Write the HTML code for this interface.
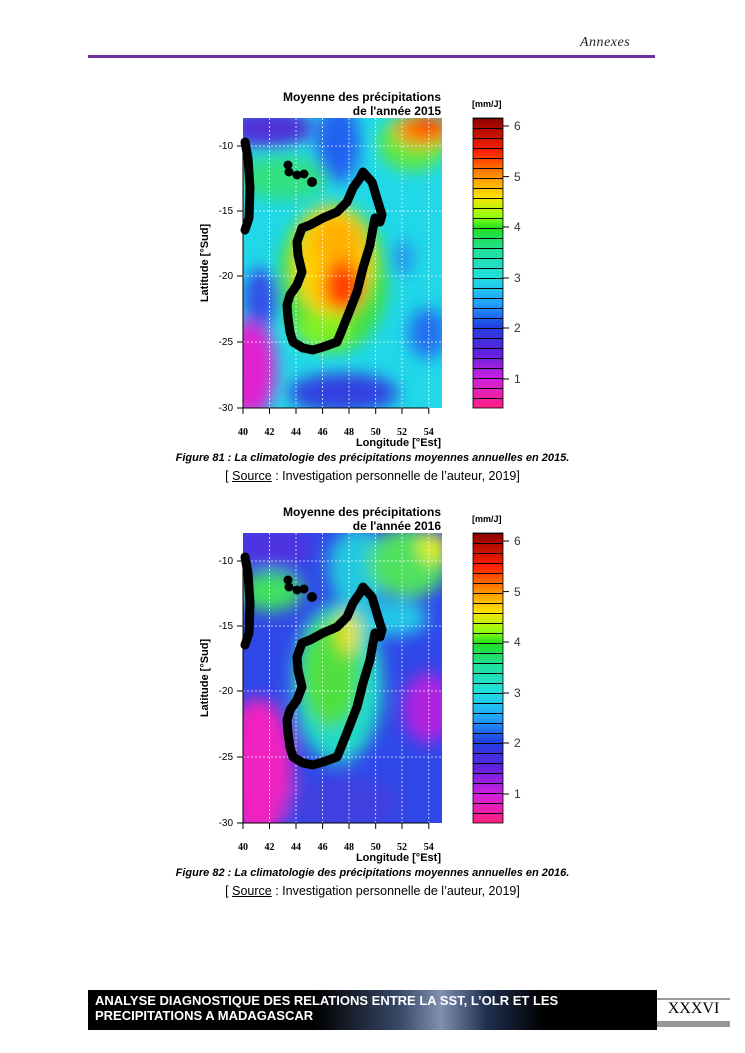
<!DOCTYPE html>
<html><head><meta charset="utf-8">
<style>
body{margin:0;background:#fff;}
#pg{position:relative;width:745px;height:1053px;overflow:hidden;background:#fff;font-family:"Liberation Sans",sans-serif;}
.abs{position:absolute;}
</style></head><body><div id="pg">
<div class="abs" style="left:580px;top:35px;font-family:'Liberation Serif',serif;font-style:italic;font-size:14px;color:#222;letter-spacing:0.5px">Annexes</div>
<div class="abs" style="left:88px;top:55px;width:567px;height:3px;background:#7030a0"></div>

<svg class="abs" style="left:0;top:0" width="745" height="1053" font-family="Liberation Sans, sans-serif">
<defs>
<filter id="bl" x="-50%" y="-50%" width="200%" height="200%"><feGaussianBlur stdDeviation="8"/></filter>
<clipPath id="cp"><rect x="0" y="0" width="199" height="290"/></clipPath>
<linearGradient id="cb" x1="0" y1="0" x2="0" y2="1">
<stop offset="0" stop-color="#8b0000"/><stop offset="0.115" stop-color="#ff2000"/>
<stop offset="0.2" stop-color="#ff9000"/><stop offset="0.27" stop-color="#ffe000"/>
<stop offset="0.34" stop-color="#90ff10"/><stop offset="0.38" stop-color="#20e020"/>
<stop offset="0.46" stop-color="#20e0a0"/><stop offset="0.55" stop-color="#20e0e0"/>
<stop offset="0.64" stop-color="#20a0ff"/><stop offset="0.72" stop-color="#2040e0"/>
<stop offset="0.81" stop-color="#6020e0"/><stop offset="0.9" stop-color="#d020e0"/>
<stop offset="1" stop-color="#ff2080"/></linearGradient>
<pattern id="cbl" width="30" height="10" patternUnits="userSpaceOnUse" y="0"><rect width="30" height="1" fill="#000"/></pattern>
<g id="mada" fill="none" stroke="#000" stroke-width="9" stroke-linejoin="round" stroke-linecap="round">
<path d="M120,54 L129,64 L135,84 L139,97 L137,104 L132,100 L130,110 L127,127 L120,150 L114,174 L105,197 L97,217 L94,224 L80,229 L70,232 L60,230 L50,224 L47,214 L45,200 L44,187 L47,177 L54,167 L59,154 L55,137 L54,124 L59,110 L67,107 L80,100 L94,94 L104,84 L110,70 L117,60 Z"/>
<path d="M2,24 L5,40 L7,70 L6,100 L2,112"/>
</g>
<g id="dots" fill="#000"><circle cx="45" cy="47" r="4.5"/><circle cx="46" cy="54" r="4.5"/><circle cx="54" cy="57" r="4.5"/><circle cx="61" cy="56" r="4.5"/><circle cx="69" cy="64" r="5"/></g>
<g id="grid" stroke="#fff" stroke-width="0.8" stroke-dasharray="2,2" opacity="0.9">
<line x1="26.5" y1="0" x2="26.5" y2="290"/><line x1="53" y1="0" x2="53" y2="290"/><line x1="79.6" y1="0" x2="79.6" y2="290"/><line x1="106" y1="0" x2="106" y2="290"/><line x1="132.7" y1="0" x2="132.7" y2="290"/><line x1="159" y1="0" x2="159" y2="290"/><line x1="185.8" y1="0" x2="185.8" y2="290"/>
<line x1="0" y1="28" x2="199" y2="28"/><line x1="0" y1="93" x2="199" y2="93"/><line x1="0" y1="158" x2="199" y2="158"/><line x1="0" y1="224" x2="199" y2="224"/>
</g>
<g id="axes" font-size="10" font-weight="bold" fill="#000">
<g stroke="#000" stroke-width="1"><line x1="0" y1="28" x2="0" y2="290"/><line x1="-6" y1="28" x2="0" y2="28"/><line x1="-6" y1="93" x2="0" y2="93"/><line x1="-6" y1="158" x2="0" y2="158"/><line x1="-6" y1="224" x2="0" y2="224"/><line x1="-6" y1="290" x2="0" y2="290"/>
<line x1="0" y1="290" x2="186" y2="290"/><line x1="0" y1="290" x2="0" y2="296"/><line x1="26.5" y1="290" x2="26.5" y2="296"/><line x1="53" y1="290" x2="53" y2="296"/><line x1="79.6" y1="290" x2="79.6" y2="296"/><line x1="106" y1="290" x2="106" y2="296"/><line x1="132.7" y1="290" x2="132.7" y2="296"/><line x1="159" y1="290" x2="159" y2="296"/><line x1="185.8" y1="290" x2="185.8" y2="296"/></g>
<g text-anchor="end" font-weight="normal" font-size="10"><text x="-10" y="31">-10</text><text x="-10" y="96">-15</text><text x="-10" y="161">-20</text><text x="-10" y="227">-25</text><text x="-10" y="293">-30</text></g>
<g text-anchor="middle" font-family="Liberation Serif, serif"><text x="0" y="317">40</text><text x="26.5" y="317">42</text><text x="53" y="317">44</text><text x="79.6" y="317">46</text><text x="106" y="317">48</text><text x="132.7" y="317">50</text><text x="159" y="317">52</text><text x="185.8" y="317">54</text></g>
<text x="198" y="328" text-anchor="end" font-size="11">Longitude [°Est]</text>
<text transform="translate(-35,145) rotate(-90)" text-anchor="middle" font-size="11">Latitude [°Sud]</text>
<rect x="230" y="0" width="30" height="290" fill="url(#cb)" stroke="#000" stroke-width="0.8"/>
<rect x="230" y="0" width="30" height="290" fill="url(#cbl)"/>
<g stroke="#000"><line x1="260" y1="8" x2="266" y2="8"/><line x1="260" y1="58.6" x2="266" y2="58.6"/><line x1="260" y1="109" x2="266" y2="109"/><line x1="260" y1="160" x2="266" y2="160"/><line x1="260" y1="210" x2="266" y2="210"/><line x1="260" y1="261" x2="266" y2="261"/></g>
<g font-weight="normal" font-size="12" fill="#333"><text x="271" y="12">6</text><text x="271" y="63">5</text><text x="271" y="113">4</text><text x="271" y="164">3</text><text x="271" y="214">2</text><text x="271" y="265">1</text></g>
<text x="229" y="-11" font-size="9">[mm/J]</text>
</g>
</defs>

<!-- Figure 1 -->
<g transform="translate(243,118)">
<g clip-path="url(#cp)">
<rect x="0" y="0" width="199" height="290" fill="#20d8e8"/>
<g filter="url(#bl)">
<ellipse cx="25" cy="10" rx="45" ry="20" fill="#5030d8"/>
<ellipse cx="95" cy="25" rx="22" ry="40" fill="#2060f0"/>
<ellipse cx="40" cy="60" rx="45" ry="22" fill="#30e080"/>
<ellipse cx="170" cy="25" rx="35" ry="28" fill="#60e840"/>
<ellipse cx="180" cy="12" rx="28" ry="16" fill="#ff8000"/>
<ellipse cx="185" cy="8" rx="14" ry="8" fill="#ff3000"/>
<ellipse cx="8" cy="250" rx="25" ry="50" fill="#e020d0"/>
<ellipse cx="18" cy="180" rx="18" ry="30" fill="#3050e8"/>
<ellipse cx="100" cy="275" rx="55" ry="20" fill="#3040e0"/>
<ellipse cx="185" cy="215" rx="20" ry="25" fill="#2070f0"/>
<ellipse cx="160" cy="140" rx="10" ry="18" fill="#2090f0"/>
<ellipse cx="90" cy="160" rx="55" ry="75" fill="#40e040"/>
<ellipse cx="90" cy="145" rx="38" ry="55" fill="#ffd000"/>
<ellipse cx="95" cy="125" rx="25" ry="25" fill="#ffb000"/>
<ellipse cx="100" cy="168" rx="20" ry="25" fill="#ff4000"/>
<ellipse cx="80" cy="212" rx="28" ry="18" fill="#80f020"/>
</g>
<use href="#grid"/>
</g>
<use href="#mada"/><use href="#dots"/>
<use href="#axes"/>
<text x="198" y="-17" text-anchor="end" font-size="12" font-weight="bold">Moyenne des précipitations</text>
<text x="198" y="-3" text-anchor="end" font-size="12" font-weight="bold">de l'année 2015</text>
</g>

<!-- Figure 2 -->
<g transform="translate(243,533)">
<g clip-path="url(#cp)">
<rect x="0" y="0" width="199" height="290" fill="#3048e8"/>
<g filter="url(#bl)">
<ellipse cx="30" cy="15" rx="40" ry="20" fill="#5030e0"/>
<ellipse cx="115" cy="35" rx="30" ry="40" fill="#20c8e0"/>
<ellipse cx="28" cy="58" rx="32" ry="20" fill="#40e060"/>
<ellipse cx="165" cy="30" rx="40" ry="35" fill="#50e060"/>
<ellipse cx="190" cy="15" rx="15" ry="15" fill="#e0f020"/>
<ellipse cx="15" cy="235" rx="35" ry="70" fill="#f020c0"/>
<ellipse cx="185" cy="175" rx="25" ry="35" fill="#b020e0"/>
<ellipse cx="150" cy="85" rx="35" ry="18" fill="#20c8e8"/>
<ellipse cx="95" cy="150" rx="45" ry="80" fill="#20d8c8"/>
<ellipse cx="88" cy="140" rx="30" ry="55" fill="#50e040"/>
<ellipse cx="105" cy="100" rx="12" ry="22" fill="#e0e020"/>
<ellipse cx="100" cy="270" rx="60" ry="25" fill="#4040e0"/>
</g>
<use href="#grid"/>
</g>
<use href="#mada"/><use href="#dots"/>
<use href="#axes"/>
<text x="198" y="-17" text-anchor="end" font-size="12" font-weight="bold">Moyenne des précipitations</text>
<text x="198" y="-3" text-anchor="end" font-size="12" font-weight="bold">de l'année 2016</text>
</g>
</svg>

<div class="abs" style="left:0;width:745px;top:452px;text-align:center;font-size:11px;font-weight:bold;font-style:italic">Figure 81 : La climatologie des précipitations moyennes annuelles en 2015.</div>
<div class="abs" style="left:0;width:745px;top:469px;text-align:center;font-size:12.5px">[ <u>Source</u> : Investigation personnelle de l’auteur, 2019]</div>
<div class="abs" style="left:0;width:745px;top:867px;text-align:center;font-size:11px;font-weight:bold;font-style:italic">Figure 82 : La climatologie des précipitations moyennes annuelles en 2016.</div>
<div class="abs" style="left:0;width:745px;top:884px;text-align:center;font-size:12.5px">[ <u>Source</u> : Investigation personnelle de l’auteur, 2019]</div>

<div class="abs" style="left:88px;top:990px;width:569px;height:40px;background:linear-gradient(90deg,#000 0%,#000 40%,#3a4a6a 55%,#8090b0 62%,#203050 70%,#000 80%)"></div>
<div class="abs" style="left:95px;top:993px;color:#fff;font-size:13px;font-weight:bold;line-height:15px">ANALYSE DIAGNOSTIQUE DES RELATIONS ENTRE LA SST, L’OLR ET LES<br>PRECIPITATIONS A MADAGASCAR</div>
<div class="abs" style="left:657px;top:998px;width:73px;height:2px;background:#999"></div>
<div class="abs" style="left:657px;top:1021px;width:73px;height:6px;background:#999"></div>
<div class="abs" style="left:657px;top:1000px;width:73px;text-align:center;font-family:'Liberation Serif',serif;font-size:16px">XXXVI</div>
</div></body></html>
